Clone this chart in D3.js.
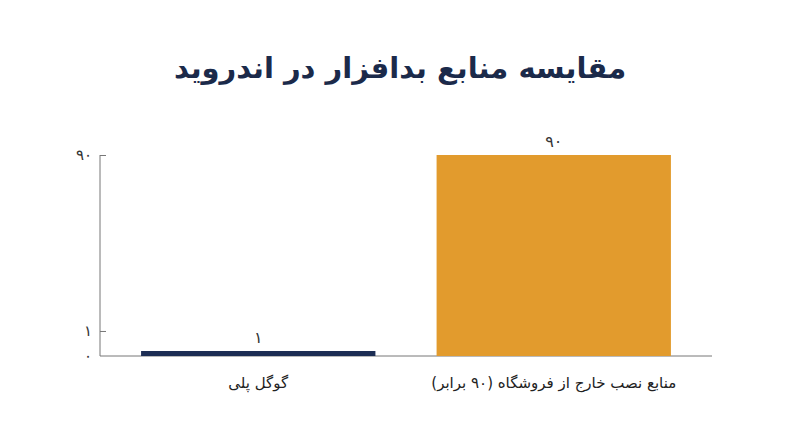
<!DOCTYPE html>
<html><head><meta charset="utf-8">
<script src="https://cdn.jsdelivr.net/npm/d3@7"></script>
<style>body{margin:0;background:#fff;font-family:"DejaVu Sans","Noto Sans",sans-serif}</style>
</head><body><div id="chart"></div>
<script>
const categories = ["گوگل پلی", "منابع نصب خارج از فروشگاه (۹۰ برابر)"];
const values = [1, 90];
const tickValues = [0, 1, 90];
const colors = ["#1c2d54", "#e29b2d"];

const fa = n => String(n).replace(/\d/g, d => "۰۱۲۳۴۵۶۷۸۹"[d]);

const W = 800, H = 447;
const svg = d3.select("#chart").append("svg").attr("width", W).attr("height", H);
const x0 = 100, x1 = 712, yTop = 155, yBase = 356;

const x = d3.scaleBand().domain(categories).range([x0, x1]).paddingInner(0.207).paddingOuter(0.139);
const y = d3.scaleLinear().domain([0, 90]).range([yBase, yTop]);
// axis ticks are drawn on a compressed scale, as in the original
const yAxisScale = d3.scalePow().exponent(0.463).domain([0, 90]).range([yBase, yTop]);

svg.append("text").attr("x", W / 2).attr("y", 78).attr("text-anchor", "middle")
  .attr("direction", "rtl").attr("font-size", 29).attr("font-weight", "bold").attr("fill", "#1b2a4a")
  .text("مقایسه منابع بدافزار در اندروید");

const ax = svg.append("g").attr("transform", `translate(${x0},0)`)
  .call(d3.axisLeft(yAxisScale).tickValues(tickValues).tickFormat(fa).tickSize(-6).tickSizeOuter(0).tickPadding(10));
ax.select(".domain").attr("stroke", "#777").attr("d", `M0,${yTop}V${yBase}`);
ax.selectAll(".tick line").attr("stroke", "#777").attr("x2", 6);
ax.selectAll(".tick text").attr("font-size", 15).attr("fill", "#333").attr("x", -8);
ax.selectAll(".tick").filter(d => d === 0).select("line").remove();

svg.append("line").attr("x1", x0).attr("x2", x1).attr("y1", yBase).attr("y2", yBase).attr("stroke", "#777");

svg.selectAll("rect.bar").data(values).join("rect").attr("class", "bar")
  .attr("x", (d, i) => x(categories[i])).attr("width", x.bandwidth())
  .attr("y", d => Math.min(y(d), yBase - 5)).attr("height", d => Math.max(yBase - y(d), 5))
  .attr("fill", (d, i) => colors[i]);

svg.selectAll("text.val").data(values).join("text").attr("class", "val")
  .attr("x", (d, i) => x(categories[i]) + x.bandwidth() / 2)
  .attr("y", d => Math.min(y(d), yBase - 5) - 8).attr("text-anchor", "middle")
  .attr("font-size", 16).attr("fill", "#333").text(d => fa(d));

svg.selectAll("text.cat").data(categories).join("text").attr("class", "cat")
  .attr("x", d => x(d) + x.bandwidth() / 2).attr("y", 388).attr("text-anchor", "middle")
  .attr("direction", "rtl").attr("font-size", 15).attr("fill", "#222").text(d => d);
</script></body></html>
